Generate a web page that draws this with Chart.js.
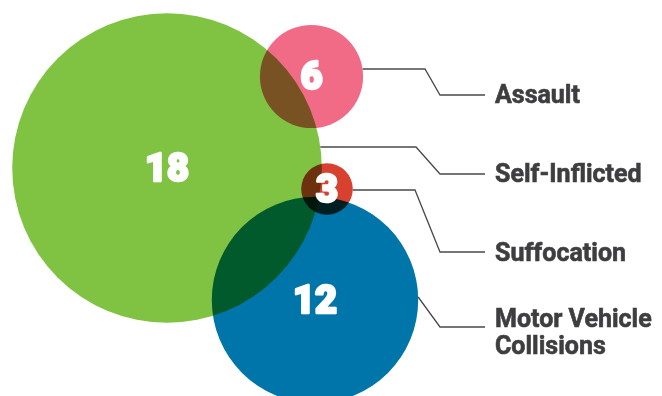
<!DOCTYPE html>
<html>
<head>
<meta charset="utf-8">
<script src="https://cdn.jsdelivr.net/npm/chart.js@4"></script>
<style>
  html, body { margin: 0; padding: 0; background: #fff; }
  #wrap { width: 662px; height: 396px; }
</style>
</head>
<body>
<div id="wrap"><canvas id="myChart" width="662" height="396"></canvas></div>
<script>
'use strict'

// data
const categories = ['Assault', 'Self-Inflicted', 'Suffocation', 'Motor Vehicle Collisions']
const labelLines = [['Assault'], ['Self-Inflicted'], ['Suffocation'], ['Motor Vehicle', 'Collisions']]
const counts = [6, 18, 3, 12]
const centerX = [311.5, 167, 327, 315]
const centerY = [76.5, 168, 189, 300]

const colors = ['#f16b87', '#80c342', '#d8402f', '#0075aa']
const pxPerCase = 8.6

// leader line layout: y where it leaves the circle, first elbow x, label y, text baseline
const leaders = [
  { y0: 69, elbow: 425, yLabel: 95, base: 103 },
  { y0: 147, elbow: 416, yLabel: 174, base: 182 },
  { y0: 190, elbow: 415, yLabel: 252, base: 261 },
  { y0: 297, elbow: null, yLabel: 327, base: 327 }
]

const points = counts.map((v, i) => {
  return { x: centerX[i], y: centerY[i], r: v * pxPerCase }
})

const multiplyPlugin = {
  id: 'multiply',
  beforeDatasetsDraw(chart) {
    chart.ctx.save()
    chart.ctx.globalCompositeOperation = 'multiply'
  },
  afterDatasetsDraw(chart) {
    chart.ctx.restore()
  }
}

const annotatePlugin = {
  id: 'annotate',
  afterDatasetsDraw(chart) {
    const ctx = chart.ctx
    const meta = chart.getDatasetMeta(0)
    ctx.save()

    // leader lines
    ctx.strokeStyle = '#4a4a4a'
    ctx.lineWidth = 1.3
    meta.data.forEach((el, i) => {
      const r = el.options.radius
      const L = leaders[i]
      const dy = L.y0 - el.y
      const edgeX = el.x + Math.sqrt(Math.max(r * r - dy * dy, 0))
      ctx.beginPath()
      ctx.moveTo(edgeX, L.y0)
      if (L.elbow !== null) ctx.lineTo(L.elbow, L.y0)
      ctx.lineTo(440, L.yLabel)
      ctx.lineTo(485, L.yLabel)
      ctx.stroke()
    })

    // category labels
    ctx.fillStyle = '#3e3e40'
    ctx.strokeStyle = '#3e3e40'
    ctx.lineWidth = 0.6
    ctx.font = 'bold 25px Roboto, "Liberation Sans", sans-serif'
    ctx.textAlign = 'left'
    ctx.textBaseline = 'alphabetic'
    labelLines.forEach((lines, i) => {
      lines.forEach((t, j) => {
        ctx.fillText(t, 495, leaders[i].base + j * 27)
        ctx.strokeText(t, 495, leaders[i].base + j * 27)
      })
    })

    // counts inside the circles
    ctx.fillStyle = '#ffffff'
    ctx.strokeStyle = '#ffffff'
    ctx.lineWidth = 2.5
    ctx.lineJoin = 'round'
    ctx.font = '900 38px Roboto, Lato, sans-serif'
    ctx.textAlign = 'center'
    ctx.textBaseline = 'middle'
    meta.data.forEach((el, i) => {
      ctx.strokeText(String(counts[i]), el.x, el.y + 3)
      ctx.fillText(String(counts[i]), el.x, el.y + 3)
    })
    ctx.restore()
  }
}

const ctx = document.getElementById('myChart')

new Chart(ctx, {
  type: 'bubble',
  data: {
    labels: categories,
    datasets: [
      {
        label: 'Cases',
        data: points,
        backgroundColor: colors,
        borderWidth: 0,
        hoverBorderWidth: 0,
        clip: false
      }
    ]
  },
  options: {
    responsive: false,
    animation: false,
    events: [],
    layout: { padding: 0, autoPadding: false },
    plugins: {
      legend: { display: false },
      tooltip: { enabled: false }
    },
    scales: {
      x: { type: 'linear', min: 0, max: 662, display: false },
      y: { type: 'linear', min: 0, max: 396, reverse: true, display: false }
    }
  },
  plugins: [multiplyPlugin, annotatePlugin]
})
</script>
</body>
</html>
